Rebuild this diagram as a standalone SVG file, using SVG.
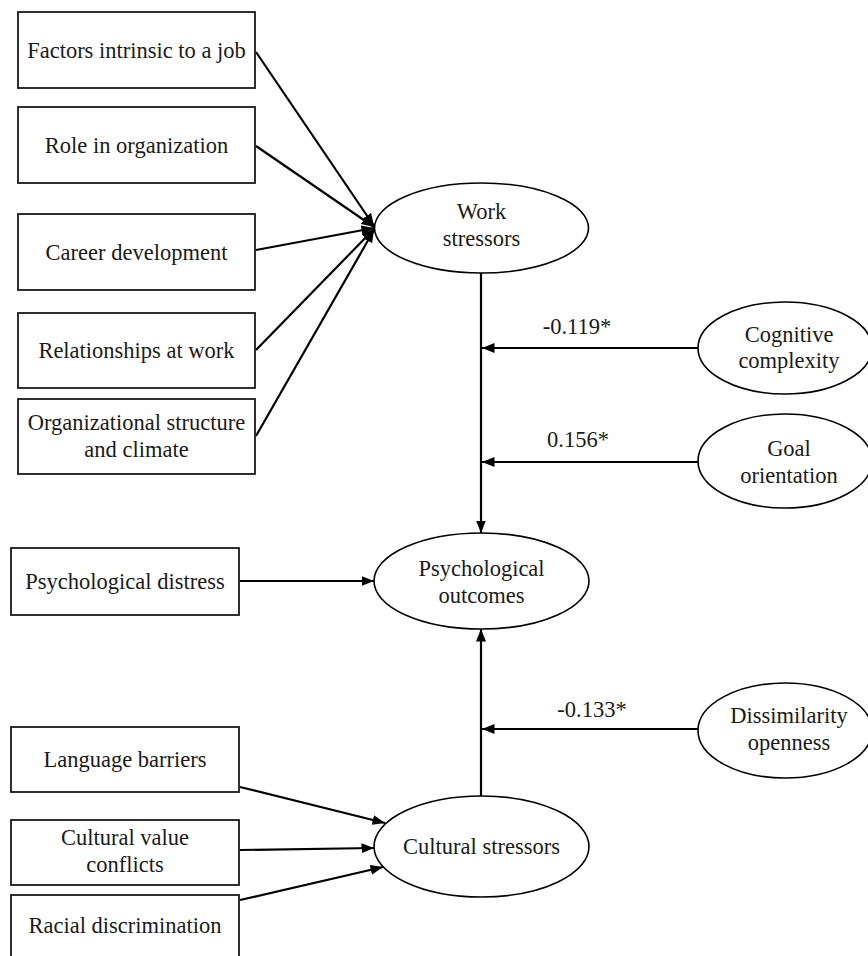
<svg xmlns="http://www.w3.org/2000/svg" width="868" height="956" viewBox="0 0 868 956">
<defs>
<marker id="ah" markerUnits="userSpaceOnUse" markerWidth="13" markerHeight="11" viewBox="0 0 13 11" refX="12.5" refY="5.5" orient="auto">
<path d="M0,0.5 L12.5,5.5 L0,10.5 z" fill="#000"/>
</marker>
<style>
.box{fill:#fff;stroke:#1a1a1a;stroke-width:1.8}
.ell{fill:#fff;stroke:#000;stroke-width:1.6}
.t{font-family:"Liberation Serif","Times New Roman",serif;font-size:22.5px;fill:#1a1a1a;text-anchor:middle}
.c{stroke:#000;stroke-width:2.2;fill:none;marker-end:url(#ah)}
.cn{stroke:#000;stroke-width:2.2;fill:none}
</style>
</defs>
<rect width="868" height="956" fill="#fff"/>

<g id="connectors">
<line class="c" x1="256" y1="52" x2="374" y2="226"/>
<line class="c" x1="256" y1="146" x2="374" y2="227"/>
<line class="c" x1="256" y1="250" x2="374" y2="228"/>
<line class="c" x1="256" y1="350" x2="374" y2="229"/>
<line class="c" x1="256" y1="436" x2="374" y2="230"/>
<line class="c" x1="481" y1="273" x2="481" y2="533"/>
<line class="c" x1="698" y1="348" x2="482" y2="348"/>
<line class="c" x1="698" y1="462" x2="482" y2="462"/>
<line class="c" x1="240" y1="581" x2="374" y2="581"/>
<line class="c" x1="481" y1="796" x2="481" y2="629"/>
<line class="c" x1="698" y1="729" x2="482" y2="729"/>
<line class="c" x1="240" y1="787" x2="385" y2="823"/>
<line class="c" x1="240" y1="850" x2="374" y2="848"/>
<line class="c" x1="240" y1="900" x2="383" y2="867"/>
<text class="t" x="577" y="334">-0.119*</text>
<text class="t" x="578" y="447">0.156*</text>
<text class="t" x="592" y="717">-0.133*</text>
</g>

<g id="factors">
<rect class="box" x="18" y="12" width="237" height="76"/>
<text class="t" x="136.5" y="58">Factors intrinsic to a job</text>
</g>
<g id="role">
<rect class="box" x="18" y="107" width="237" height="76"/>
<text class="t" x="136.5" y="153">Role in organization</text>
</g>
<g id="career">
<rect class="box" x="18" y="214" width="237" height="76"/>
<text class="t" x="136.5" y="260">Career development</text>
</g>
<g id="relationships">
<rect class="box" x="18" y="313" width="237" height="75"/>
<text class="t" x="136.5" y="358">Relationships at work</text>
</g>
<g id="orgstructure">
<rect class="box" x="18" y="399" width="237" height="75"/>
<text class="t" x="136.5" y="430">Organizational structure</text>
<text class="t" x="136.5" y="457">and climate</text>
</g>

<g id="work-stressors">
<ellipse class="ell" cx="481.5" cy="228" rx="107" ry="45"/>
<text class="t" x="481.5" y="219">Work</text>
<text class="t" x="481.5" y="246">stressors</text>
</g>

<g id="cognitive">
<ellipse class="ell" cx="785" cy="348" rx="87" ry="46"/>
<text class="t" x="789" y="342">Cognitive</text>
<text class="t" x="789" y="368">complexity</text>
</g>
<g id="goal">
<ellipse class="ell" cx="785" cy="461" rx="87" ry="47"/>
<text class="t" x="789" y="456">Goal</text>
<text class="t" x="789" y="483">orientation</text>
</g>

<g id="psych-distress">
<rect class="box" x="11" y="548" width="228" height="67"/>
<text class="t" x="125" y="589">Psychological distress</text>
</g>
<g id="psych-outcomes">
<ellipse class="ell" cx="481.5" cy="581" rx="107.5" ry="48"/>
<text class="t" x="481.5" y="576">Psychological</text>
<text class="t" x="481.5" y="603">outcomes</text>
</g>

<g id="dissimilarity">
<ellipse class="ell" cx="785" cy="730.5" rx="87" ry="47.5"/>
<text class="t" x="789" y="723">Dissimilarity</text>
<text class="t" x="789" y="750">openness</text>
</g>

<g id="language">
<rect class="box" x="11" y="727" width="228" height="65"/>
<text class="t" x="125" y="767">Language barriers</text>
</g>
<g id="cultural-value">
<rect class="box" x="11" y="820" width="228" height="65"/>
<text class="t" x="125" y="845">Cultural value</text>
<text class="t" x="125" y="872">conflicts</text>
</g>
<g id="racial">
<rect class="box" x="11" y="895" width="228" height="70"/>
<text class="t" x="125" y="933">Racial discrimination</text>
</g>
<g id="cultural-stressors">
<ellipse class="ell" cx="481.5" cy="846.5" rx="107.5" ry="50.5"/>
<text class="t" x="481.5" y="854">Cultural stressors</text>
</g>
</svg>
